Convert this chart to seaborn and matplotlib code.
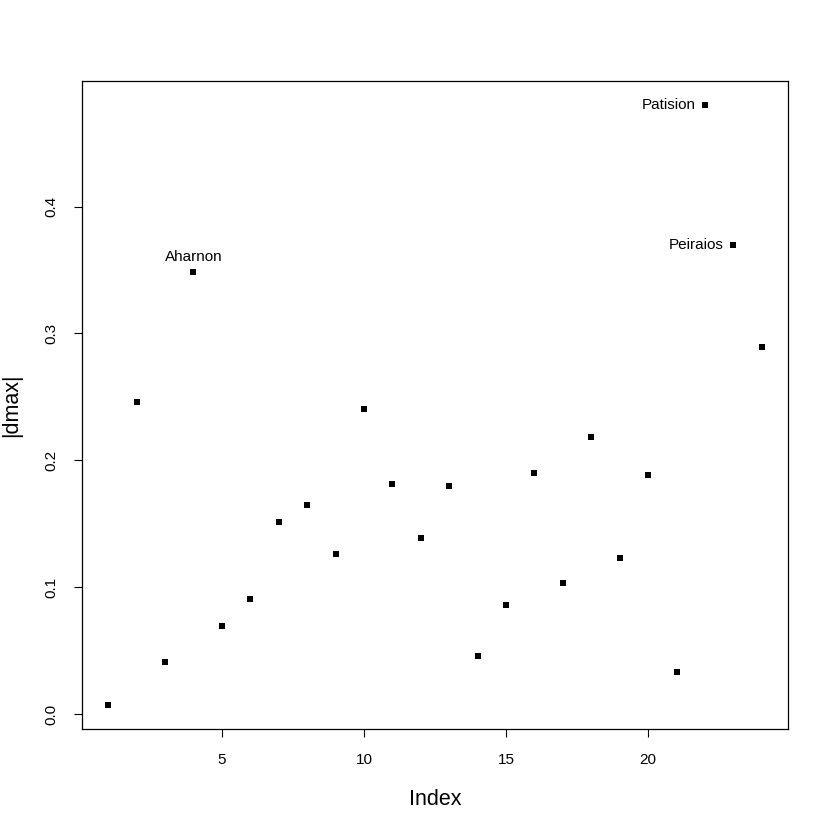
import matplotlib
matplotlib.use("Agg")
import matplotlib.pyplot as plt
import seaborn as sns
import numpy as np
import pandas as pd

# |dmax| per station (index 1..24)
dmax = [0.0071, 0.246, 0.041, 0.348, 0.0696, 0.091, 0.151, 0.1646,
        0.126, 0.2405, 0.181, 0.139, 0.1796, 0.0459, 0.0862, 0.190,
        0.1036, 0.218, 0.1226, 0.188, 0.033, 0.480, 0.3695, 0.289]
labelled = {4: "Aharnon", 22: "Patision", 23: "Peiraios"}

df = pd.DataFrame({"Index": np.arange(1, len(dmax) + 1), "dmax": dmax})

sns.set_style("white")
plt.rcParams["font.family"] = ["Liberation Sans", "DejaVu Sans"]
plt.rcParams["text.color"] = "black"
plt.rcParams["axes.labelcolor"] = "black"
plt.rcParams["xtick.color"] = "black"
plt.rcParams["ytick.color"] = "black"

fig = plt.figure(figsize=(8.3, 8.3), dpi=100)
ax = fig.add_axes([0.0988, 0.1217, 0.8506, 0.7807])

sns.scatterplot(data=df, x="Index", y="dmax", marker="s", s=13,
                color="black", linewidth=0, ax=ax)

for i, name in labelled.items():
    y = dmax[i - 1]
    if i == 4:
        ax.annotate(name, (i, y), xytext=(0, 6), textcoords="offset points",
                    ha="center", va="bottom", fontsize=11)
    else:
        ax.annotate(name, (i, y), xytext=(-7, 0), textcoords="offset points",
                    ha="right", va="center", fontsize=11)

n = len(dmax)
ax.set_xlim(1 - 0.04 * (n - 1), n + 0.04 * (n - 1))
lo, hi = min(dmax), max(dmax)
pad = 0.04 * (hi - lo)
ax.set_ylim(lo - pad, hi + pad)

ax.set_xticks([5, 10, 15, 20])
ax.set_yticks([0.0, 0.1, 0.2, 0.3, 0.4])
ax.set_yticklabels(["0.0", "0.1", "0.2", "0.3", "0.4"], rotation=90, va="center")
ax.tick_params(axis="both", direction="out", length=6, width=0.8,
               labelsize=11, bottom=True, left=True)
ax.tick_params(axis="x", pad=11)
ax.tick_params(axis="y", pad=11)

for sp in ax.spines.values():
    sp.set_color("black")
    sp.set_linewidth(0.9)

ax.set_xlabel("Index", fontsize=15.5, labelpad=16)
ax.set_ylabel("|dmax|", fontsize=15.5, labelpad=16)

fig.savefig("out.png", dpi=100, facecolor="white")
